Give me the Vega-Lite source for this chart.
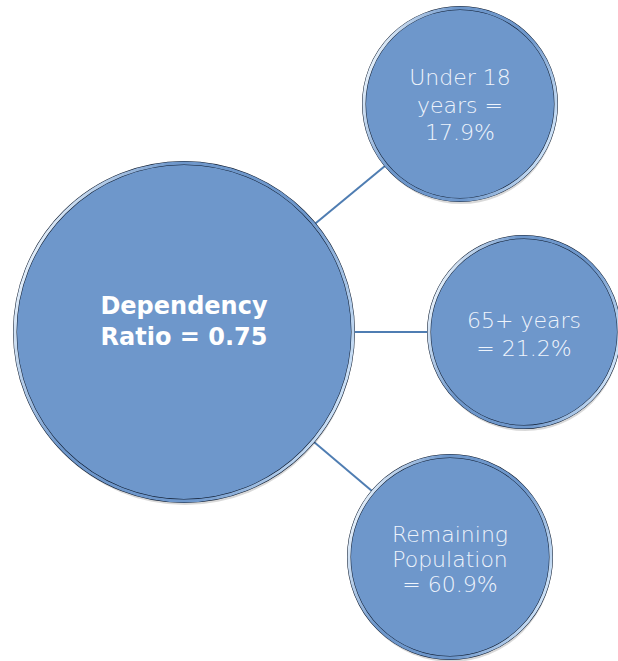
{
  "$schema": "https://vega.github.io/schema/vega-lite/v6.json",
  "width": 618,
  "height": 661,
  "padding": 0,
  "autosize": {"type": "none"},
  "background": "white",
  "config": {"view": {"stroke": null}},
  "datasets": {
    "nodes": [
      {"id": "hub", "kind": "hub", "label": "Dependency\nRatio = 0.75", "cx": 184, "cy": 332, "r": 169},
      {"id": "u18", "kind": "leaf", "label": "Under 18\nyears =\n17.9%", "cx": 460, "cy": 104, "r": 96},
      {"id": "65p", "kind": "leaf", "label": "65+ years\n= 21.2%", "cx": 524, "cy": 332, "r": 95},
      {"id": "rem", "kind": "leaf", "label": "Remaining\nPopulation\n= 60.9%", "cx": 450, "cy": 557, "r": 101}
    ],
    "links": [
      {"x": 184, "y": 332, "x2": 460, "y2": 104},
      {"x": 184, "y": 332, "x2": 524, "y2": 332},
      {"x": 184, "y": 332, "x2": 450, "y2": 557}
    ]
  },
  "layer": [
    {
      "data": {"name": "links"},
      "mark": {"type": "rule", "color": "#4f7db2", "strokeWidth": 2},
      "encoding": {
        "x": {"field": "x", "type": "quantitative", "scale": {"domain": [0, 618], "nice": false, "zero": false}, "axis": null},
        "y": {"field": "y", "type": "quantitative", "scale": {"domain": [0, 661], "nice": false, "zero": false, "reverse": true}, "axis": null},
        "x2": {"field": "x2"},
        "y2": {"field": "y2"}
      }
    },
    {
      "data": {"name": "nodes"},
      "mark": {"type": "point", "shape": "circle", "filled": true, "color": "#000000", "opacity": 0.15, "yOffset": 4, "xOffset": 1},
      "encoding": {
        "x": {"field": "cx", "type": "quantitative", "scale": {"domain": [0, 618], "nice": false, "zero": false}, "axis": null},
        "y": {"field": "cy", "type": "quantitative", "scale": {"domain": [0, 661], "nice": false, "zero": false, "reverse": true}, "axis": null},
        "size": {"field": "r", "type": "quantitative", "scale": {"type": "pow", "exponent": 2, "domain": [0, 200], "range": [0, 160000], "zero": true}, "legend": null}
      }
    },
    {
      "data": {"name": "nodes"},
      "mark": {"type": "point", "shape": "circle", "filled": true, "fill": "#6e97cb", "fillOpacity": 1, "stroke": "#0d1a2e", "strokeOpacity": 1, "strokeWidth": 4, "opacity": 1},
      "encoding": {
        "x": {"field": "cx", "type": "quantitative", "scale": {"domain": [0, 618], "nice": false, "zero": false}, "axis": null},
        "y": {"field": "cy", "type": "quantitative", "scale": {"domain": [0, 661], "nice": false, "zero": false, "reverse": true}, "axis": null},
        "size": {"field": "r", "type": "quantitative", "scale": {"type": "pow", "exponent": 2, "domain": [0, 200], "range": [0, 160000], "zero": true}, "legend": null}
      }
    },
    {
      "data": {"name": "nodes"},
      "mark": {
        "type": "point", "shape": "circle", "filled": false, "opacity": 1, "strokeWidth": 3,
        "stroke": {
          "gradient": "linear", "x1": 0, "y1": 0.3, "x2": 1, "y2": 0.7,
          "stops": [
            {"offset": 0, "color": "#eef7ff"},
            {"offset": 0.3, "color": "#6e97cb"},
            {"offset": 0.7, "color": "#6e97cb"},
            {"offset": 1, "color": "#d6e9fc"}
          ]
        }
      },
      "encoding": {
        "x": {"field": "cx", "type": "quantitative", "scale": {"domain": [0, 618], "nice": false, "zero": false}, "axis": null},
        "y": {"field": "cy", "type": "quantitative", "scale": {"domain": [0, 661], "nice": false, "zero": false, "reverse": true}, "axis": null},
        "size": {"field": "r", "type": "quantitative", "scale": {"type": "pow", "exponent": 2, "domain": [0, 200], "range": [0, 147456], "zero": true}, "legend": null}
      }
    },
    {
      "data": {"name": "nodes"},
      "transform": [{"filter": "datum.id === 'hub'"}],
      "mark": {"type": "text", "lineBreak": "\n", "align": "center", "baseline": "middle", "font": "DejaVu Sans", "fontWeight": "bold", "fontSize": 24, "lineHeight": 31, "color": "#ffffff", "dy": -25},
      "encoding": {
        "x": {"field": "cx", "type": "quantitative", "scale": {"domain": [0, 618], "nice": false, "zero": false}, "axis": null},
        "y": {"field": "cy", "type": "quantitative", "scale": {"domain": [0, 661], "nice": false, "zero": false, "reverse": true}, "axis": null},
        "text": {"field": "label"}
      }
    },
    {
      "data": {"name": "nodes"},
      "transform": [{"filter": "datum.id === 'u18'"}],
      "mark": {"type": "text", "lineBreak": "\n", "align": "center", "baseline": "middle", "font": "DejaVu Sans", "fontWeight": 200, "fontSize": 22, "lineHeight": 27.5, "color": "#eef4fc", "dy": -26},
      "encoding": {
        "x": {"field": "cx", "type": "quantitative", "scale": {"domain": [0, 618], "nice": false, "zero": false}, "axis": null},
        "y": {"field": "cy", "type": "quantitative", "scale": {"domain": [0, 661], "nice": false, "zero": false, "reverse": true}, "axis": null},
        "text": {"field": "label"}
      }
    },
    {
      "data": {"name": "nodes"},
      "transform": [{"filter": "datum.id === '65p'"}],
      "mark": {"type": "text", "lineBreak": "\n", "align": "center", "baseline": "middle", "font": "DejaVu Sans", "fontWeight": 200, "fontSize": 22, "lineHeight": 28, "color": "#eef4fc", "dy": -11},
      "encoding": {
        "x": {"field": "cx", "type": "quantitative", "scale": {"domain": [0, 618], "nice": false, "zero": false}, "axis": null},
        "y": {"field": "cy", "type": "quantitative", "scale": {"domain": [0, 661], "nice": false, "zero": false, "reverse": true}, "axis": null},
        "text": {"field": "label"}
      }
    },
    {
      "data": {"name": "nodes"},
      "transform": [{"filter": "datum.id === 'rem'"}],
      "mark": {"type": "text", "lineBreak": "\n", "align": "center", "baseline": "middle", "font": "DejaVu Sans", "fontWeight": 200, "fontSize": 22, "lineHeight": 25, "color": "#eef4fc", "dy": -22},
      "encoding": {
        "x": {"field": "cx", "type": "quantitative", "scale": {"domain": [0, 618], "nice": false, "zero": false}, "axis": null},
        "y": {"field": "cy", "type": "quantitative", "scale": {"domain": [0, 661], "nice": false, "zero": false, "reverse": true}, "axis": null},
        "text": {"field": "label"}
      }
    }
  ]
}
